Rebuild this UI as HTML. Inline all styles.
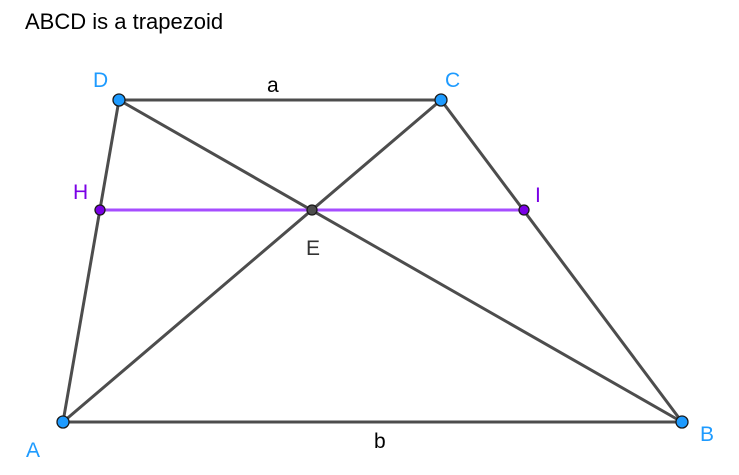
<!DOCTYPE html>
<html><head><meta charset="utf-8"><style>
html,body{margin:0;padding:0;background:#fff;}
svg{display:block;}
text{font-family:"Liberation Sans",Arial,sans-serif;}
</style></head><body>
<svg width="739" height="475" viewBox="0 0 739 475" xmlns="http://www.w3.org/2000/svg">
<rect width="739" height="475" fill="#fff"/>
<text x="25" y="29" font-size="22" fill="#000">ABCD is a trapezoid</text>
<g stroke="#4d4d4d" stroke-width="3" fill="none" stroke-linecap="round">
<line x1="119" y1="100" x2="441" y2="100"/>
<line x1="119" y1="100" x2="63" y2="422"/>
<line x1="441" y1="100" x2="682" y2="422"/>
<line x1="63" y1="422" x2="682" y2="422"/>
<line x1="119" y1="100" x2="682" y2="422"/>
<line x1="441" y1="100" x2="63" y2="422"/>
</g>
<line x1="100" y1="210" x2="524" y2="210" stroke="#a64dff" stroke-width="3"/>
<g stroke="#1a1a1a" stroke-width="1.3">
<circle cx="119" cy="100" r="6" fill="#1e9bff"/>
<circle cx="441" cy="100" r="6" fill="#1e9bff"/>
<circle cx="63" cy="422" r="6" fill="#1e9bff"/>
<circle cx="682" cy="422" r="6" fill="#1e9bff"/>
<circle cx="100" cy="210" r="5" fill="#7a00e6"/>
<circle cx="524" cy="210" r="5" fill="#7a00e6"/>
<circle cx="312" cy="210" r="5" fill="#4d4d4d"/>
</g>
<g font-size="21">
<text x="93" y="87" fill="#1e9bff">D</text>
<text x="445" y="87" fill="#1e9bff">C</text>
<text x="26" y="457" fill="#1e9bff">A</text>
<text x="700" y="441" fill="#1e9bff">B</text>
<text x="73" y="199" fill="#7a00e6">H</text>
<text x="535" y="202" fill="#7a00e6">I</text>
<text x="306" y="255" fill="#333">E</text>
<text x="267" y="92" fill="#000">a</text>
<text x="374" y="448" fill="#000">b</text>
</g>
</svg>
</body></html>
